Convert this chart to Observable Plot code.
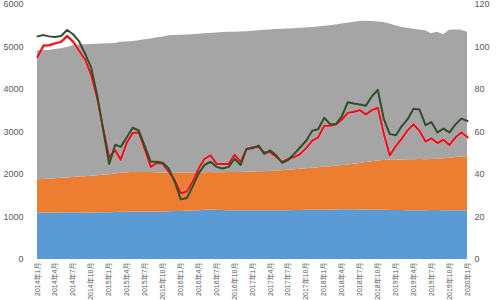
<!DOCTYPE html>
<html>
<head>
<meta charset="utf-8">
<script src="https://cdn.jsdelivr.net/npm/d3@7"></script>
<script src="https://cdn.jsdelivr.net/npm/@observablehq/plot@0.6"></script>
<style>
  html, body { margin: 0; padding: 0; background: #fff; overflow: hidden; }
  #chart { width: 500px; height: 300px; }
</style>
</head>
<body>
<div id="chart"></div>
<script>
// Monthly categories: 2014年1月 .. 2020年1月
const startMonth = new Date(Date.UTC(2014, 0, 1));
const endMonth = new Date(Date.UTC(2020, 0, 1));
const months = d3.utcMonth.range(startMonth, d3.utcMonth.offset(endMonth, 1));

// Stacked area series (left axis)
const bottomValues = [
  1090,1092,1095,1095,1098,1100,1100,1098,1095,1095,1098,1100,
  1100,1105,1110,1110,1115,1115,1120,1120,1118,1120,1125,1128,
  1130,1135,1140,1150,1160,1165,1160,1155,1150,1150,1145,1145,
  1150,1150,1145,1145,1150,1150,1150,1155,1155,1160,1160,1160,
  1160,1165,1165,1170,1170,1170,1165,1165,1160,1160,1160,1155,
  1155,1155,1150,1150,1150,1150,1155,1155,1150,1150,1150,1150,1150
];
const middleValues = [
  785,788,795,805,812,820,830,842,855,865,872,880,
  895,905,920,930,930,935,930,925,922,915,905,902,
  900,900,895,890,880,880,880,885,895,900,905,910,
  910,915,920,925,930,940,950,955,970,975,985,1000,
  1015,1020,1030,1040,1055,1070,1095,1115,1140,1155,1170,1185,
  1190,1185,1195,1200,1205,1200,1200,1205,1220,1230,1250,1260,1270
];
const topValues = [
  3035,3035,3030,3040,3050,3070,3100,3105,3105,3100,3095,3090,
  3080,3070,3080,3080,3085,3100,3120,3145,3180,3195,3235,3240,
  3245,3250,3255,3260,3270,3275,3290,3300,3300,3300,3305,3305,
  3310,3315,3330,3330,3330,3330,3325,3320,3315,3315,3315,3310,
  3315,3315,3325,3330,3335,3340,3340,3325,3300,3275,3245,3200,
  3155,3120,3095,3070,3045,3035,2955,2985,2920,3015,3000,2985,2925
];

// Line series (right axis, 0-120)
const greenValues = [
  105,105.6,105,104.7,105.2,108,106,102.6,96.8,90.4,77.4,61.2,
  45,54,53,57.5,62,60.7,53.6,46,46,45.5,42.8,36.6,
  28.3,28.9,34.3,40.5,44.5,46,43.6,42.8,43.6,47.4,44.5,52,
  52.4,53.6,49.7,51.3,49,45.5,46.8,49.7,52.8,55.9,60.6,61.3,
  66.7,63.6,63.6,67.5,74,73.4,72.9,72.4,76.8,79.8,65.9,59,
  58.5,62.9,65.9,70.9,70.6,63.2,64.7,59.8,61.6,59.8,63.6,66.3,65.2
];
const redValues = [
  95.3,100.7,100.8,101.7,102.4,105.2,102.6,98.2,94,87,76,62,
  48.2,51.4,47,55,59.5,59.8,52,43.6,45.4,45,41.2,37.5,
  31.2,32,36.6,42.8,47.4,49,45,45,45,49.3,45.9,52,
  52.8,52.8,50.5,50.5,48.2,45.9,47.3,48.2,49.7,52.4,55.9,57.5,
  62.9,62.9,63.6,65.9,69,69.5,70.3,68.3,70.3,71.4,59,49,
  53.4,57,60.7,63.6,60.6,55.5,57,54.8,56.4,53.9,57.5,59.8,57.5
];

const leftTicks = [0, 1000, 2000, 3000, 4000, 5000, 6000];
const rightRatio = 50; // 6000 left units = 120 right units
const xTicks = d3.utcMonth.every(3).range(startMonth, d3.utcMonth.offset(endMonth, 1));

const seriesNames = ["s1", "s2", "s3"];
const seriesColors = ["#5b9bd5", "#ed7d31", "#a5a5a5"];

const areaData = [];
months.forEach((m, i) => {
  areaData.push({date: m, series: "s1", value: bottomValues[i]});
  areaData.push({date: m, series: "s2", value: middleValues[i]});
  areaData.push({date: m, series: "s3", value: topValues[i]});
});
const lineData = months.map((m, i) => ({date: m, green: greenValues[i], red: redValues[i]}));

const fmtX = d => `${d.getUTCFullYear()}年${d.getUTCMonth() + 1}月`;

const chart = Plot.plot({
  width: 500,
  height: 300,
  marginLeft: 37,
  marginRight: 33,
  marginTop: 4,
  marginBottom: 41,
  style: {fontFamily: "'Liberation Sans', 'Noto Sans CJK SC', sans-serif", fontSize: "9px", color: "#595959", background: "#fff"},
  x: {type: "utc", domain: [startMonth, endMonth]},
  y: {domain: [0, 6000]},
  color: {type: "ordinal", domain: seriesNames, range: seriesColors},
  marks: [
    Plot.areaY(areaData, Plot.stackY({x: "date", y: "value", z: "series", fill: "series", order: seriesNames})),
    Plot.lineY(lineData, {x: "date", y: d => d.red * rightRatio, stroke: "#f4a0a0", strokeWidth: 3.5, strokeOpacity: 0.6}),
    Plot.lineY(lineData, {x: "date", y: d => d.red * rightRatio, stroke: "#e0141e", strokeWidth: 2}),
    Plot.lineY(lineData, {x: "date", y: d => d.green * rightRatio, stroke: "#2f4f26", strokeWidth: 2}),
    Plot.axisY({anchor: "left", ticks: leftTicks, tickFormat: d => String(d), tickSize: 0, tickPadding: 14, label: null, fontSize: 9}),
    Plot.axisY({anchor: "right", ticks: leftTicks, tickFormat: d => String(d / rightRatio), tickSize: 0, tickPadding: 7, label: null, fontSize: 9}),
    Plot.axisX({ticks: xTicks, tickFormat: fmtX, tickRotate: -90, tickSize: 0, tickPadding: 3, label: null, fontSize: 7})
  ]
});
document.getElementById("chart").appendChild(chart);
</script>
</body>
</html>
